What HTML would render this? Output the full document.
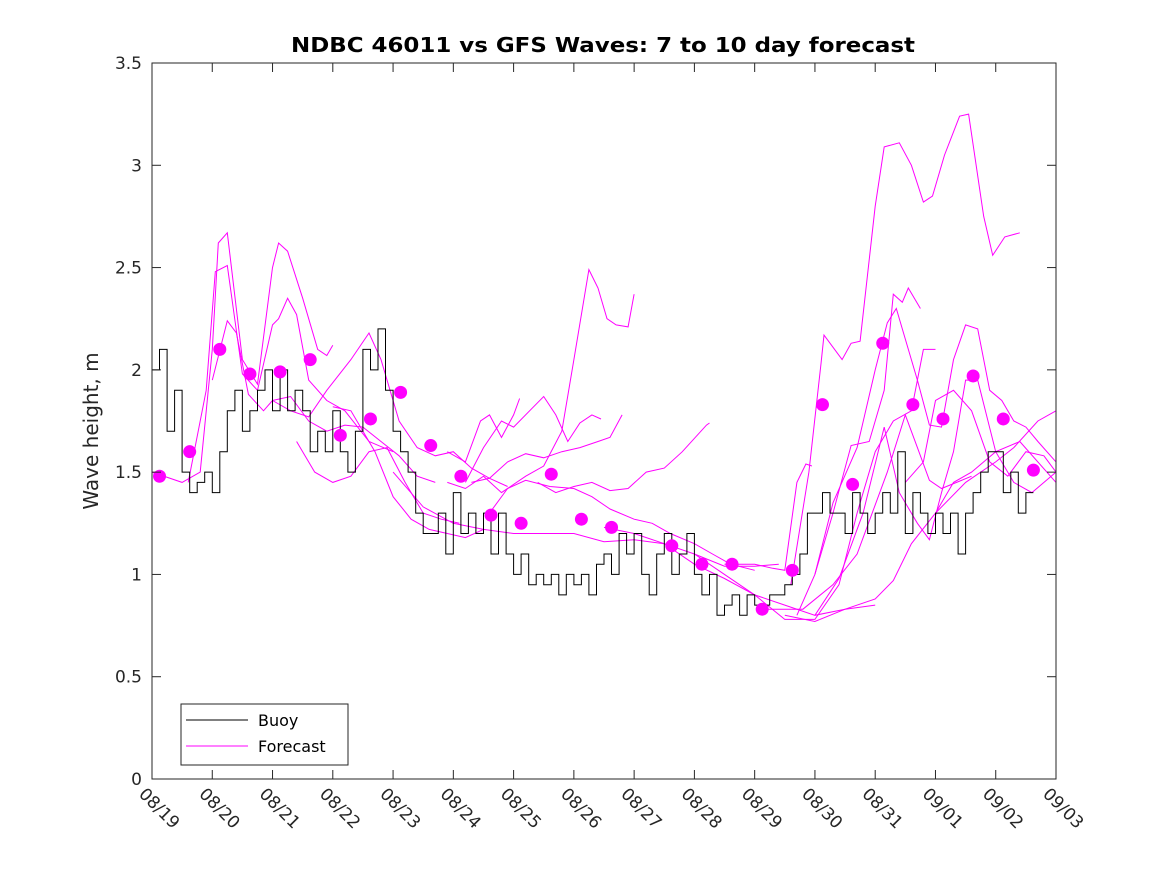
<!DOCTYPE html>
<html><head><meta charset="utf-8"><style>
body{margin:0;background:#fff;}
svg text{font-family:"DejaVu Sans","Liberation Sans",sans-serif;fill:#262626;}
</style></head><body>
<svg id="chart" width="1167" height="875" xmlns="http://www.w3.org/2000/svg">
<rect width="1167" height="875" fill="#fff"/>
<text x="603" y="52" text-anchor="middle" font-size="20" font-weight="bold" textLength="624" lengthAdjust="spacingAndGlyphs" style="fill:#000">NDBC 46011 vs GFS Waves: 7 to 10 day forecast</text>
<text transform="translate(98,431) rotate(-90)" text-anchor="middle" font-size="20">Wave height, m</text>
<g id="series"></g>
<g id="axes"></g>
<g>
<rect x="181" y="704" width="167" height="61" fill="#fff" stroke="#262626" stroke-width="1"/>
<line x1="186" y1="720" x2="248" y2="720" stroke="#000" stroke-width="1"/>
<text x="258" y="726" font-size="16" style="fill:#000">Buoy</text>
<line x1="186" y1="746" x2="248" y2="746" stroke="#ff00ff" stroke-width="1"/>
<text x="258" y="752" font-size="16" style="fill:#000">Forecast</text>
</g>
</svg>
<script>
const xTickLabels=["08/19","08/20","08/21","08/22","08/23","08/24","08/25","08/26","08/27","08/28","08/29","08/30","08/31","09/01","09/02","09/03"];
const yTicks=[0,0.5,1,1.5,2,2.5,3,3.5];
// buoy: 3-hourly values starting 08/19 00:00
const buoyValues=[2.0,2.1,1.7,1.9,1.5,1.4,1.45,1.5,
1.4,1.6,1.8,1.9,1.7,1.8,1.9,2.0,
1.8,2.0,1.8,1.9,1.8,1.6,1.7,1.6,
1.8,1.6,1.5,1.7,2.1,2.0,2.2,1.9,
1.7,1.6,1.5,1.3,1.2,1.2,1.3,1.1,
1.4,1.2,1.3,1.2,1.3,1.1,1.3,1.1,
1.0,1.1,0.95,1.0,0.95,1.0,0.9,1.0,
0.95,1.0,0.9,1.05,1.1,1.0,1.2,1.1,
1.2,1.0,0.9,1.1,1.2,1.0,1.1,1.2,
1.0,0.9,1.0,0.8,0.85,0.9,0.8,0.9,
0.85,0.85,0.9,0.9,0.95,1.0,1.1,1.3,
1.3,1.4,1.3,1.3,1.2,1.4,1.3,1.2,
1.3,1.4,1.3,1.6,1.2,1.4,1.3,1.2,
1.3,1.2,1.3,1.1,1.3,1.4,1.5,1.6,
1.6,1.4,1.5,1.3,1.4];
const dotDays=[0.125,0.625,1.125,1.625,2.125,2.625,3.125,3.625,4.125,4.625,5.125,5.625,6.125,6.625,7.125,7.625,8.625,9.125,9.625,10.125,10.625,11.125,11.625,12.125,12.625,13.125,13.625,14.125,14.625];
const dotValues=[1.48,1.60,2.10,1.98,1.99,2.05,1.68,1.76,1.89,1.63,1.48,1.29,1.25,1.49,1.27,1.23,1.14,1.05,1.05,0.83,1.02,1.83,1.44,2.13,1.83,1.76,1.97,1.76,1.51];
const fc1=[[0,1.5],[0.5,1.45],[0.8,1.5],[1.0,2.1],[1.1,2.62],[1.25,2.67],[1.5,2.05],[1.75,1.93],[2.0,2.5],[2.1,2.62],[2.25,2.58],[2.5,2.35],[2.75,2.1],[2.9,2.07],[3.0,2.12]];
const fc2=[[0.6,1.45],[0.9,1.9],[1.05,2.48],[1.25,2.51],[1.5,1.98],[1.75,1.9],[2.0,2.22],[2.1,2.25],[2.25,2.35],[2.4,2.27],[2.6,1.95],[2.9,1.85],[3.2,1.8],[3.6,1.65],[4.0,1.6]];
const fc3=[[1.0,1.95],[1.25,2.24],[1.4,2.18],[1.6,1.88],[1.85,1.8],[2.0,1.85],[2.3,1.87],[2.6,1.75],[2.9,1.7],[3.2,1.73],[3.5,1.72],[3.8,1.65],[4.1,1.58],[4.4,1.48],[4.7,1.45]];
const fc4=[[2.0,1.85],[2.3,1.8],[2.6,1.77],[2.9,1.9],[3.3,2.05],[3.6,2.18],[3.8,2.05],[4.1,1.75],[4.4,1.62],[4.7,1.58],[5.0,1.6],[5.3,1.52],[5.6,1.47],[5.9,1.43]];
const fc5=[[2.4,1.65],[2.7,1.5],[3.0,1.45],[3.3,1.48],[3.6,1.6],[3.9,1.62],[4.2,1.45],[4.5,1.3],[4.8,1.27],[5.1,1.25]];
const fc6=[[3.0,1.82],[3.3,1.8],[3.7,1.6],[4.0,1.38],[4.3,1.27],[4.6,1.22],[4.9,1.2],[5.2,1.18],[5.5,1.22]];
const fc7=[[4.9,1.45],[5.2,1.42],[5.5,1.48],[5.8,1.4],[6.2,1.48],[6.5,1.53],[6.8,1.7],[7.0,2.05],[7.25,2.49],[7.4,2.4],[7.55,2.25],[7.7,2.22],[7.9,2.21],[8.0,2.37]];
const fc8=[[4.9,1.6],[5.2,1.55],[5.45,1.75],[5.6,1.78],[5.8,1.67],[6.0,1.78],[6.1,1.86]];
const fc9=[[5.2,1.45],[5.5,1.62],[5.8,1.75],[6.0,1.72],[6.3,1.81],[6.5,1.87],[6.7,1.78],[6.9,1.65],[7.1,1.74],[7.3,1.78],[7.45,1.76]];
const fc10=[[5.3,1.45],[5.6,1.47],[5.9,1.55],[6.2,1.59],[6.5,1.57],[6.8,1.6],[7.1,1.62],[7.4,1.65],[7.6,1.67],[7.8,1.78]];
const fc11=[[6.4,1.45],[6.7,1.4],[7.0,1.43],[7.3,1.45],[7.6,1.41],[7.9,1.42],[8.2,1.5],[8.5,1.52],[8.8,1.6],[9.2,1.73],[9.25,1.74]];
const fc12=[[5.6,1.3],[5.9,1.42],[6.2,1.46],[6.6,1.43],[7.0,1.42],[7.3,1.38],[7.6,1.32],[8.0,1.27],[8.3,1.25],[8.6,1.2],[9.0,1.15],[9.3,1.1],[9.6,1.05],[10.0,1.02]];
const fc13=[[4.0,1.5],[4.5,1.33],[5.0,1.25],[5.5,1.22],[6.0,1.2],[6.5,1.2],[7.0,1.2],[7.5,1.16],[8.0,1.17],[8.5,1.15],[9.0,1.1],[9.5,1.04],[10.0,1.04],[10.4,1.05]];
const fc14=[[7.5,1.23],[8.0,1.2],[8.5,1.15],[9.0,1.05],[9.5,0.98],[10.0,0.9],[10.5,0.85],[11.0,0.8],[11.5,0.83],[12.0,0.85]];
const fc15=[[9.5,1.05],[10.0,1.05],[10.3,1.03],[10.5,1.02],[10.7,1.45],[10.85,1.54],[10.95,1.53]];
const fc16=[[10.6,0.95],[10.9,1.5],[11.1,2.03],[11.15,2.17],[11.45,2.05],[11.6,2.13],[11.75,2.14],[12.0,2.8],[12.15,3.09],[12.4,3.11],[12.6,3.0],[12.8,2.82],[12.95,2.85],[13.15,3.05],[13.4,3.24],[13.55,3.25],[13.8,2.75],[13.95,2.56],[14.15,2.65],[14.4,2.67]];
const fc17=[[11.0,1.0],[11.3,1.3],[11.6,1.63],[11.9,1.65],[12.15,1.9],[12.3,2.37],[12.45,2.33],[12.55,2.4],[12.75,2.3]];
const fc18=[[10.7,0.8],[11.0,1.0],[11.3,1.35],[11.7,1.62],[12.0,2.0],[12.2,2.23],[12.35,2.3],[12.45,2.2],[12.7,1.95],[12.9,1.73],[13.1,1.72],[13.3,2.05],[13.5,2.22],[13.7,2.2],[13.9,1.9],[14.1,1.85],[14.3,1.75],[14.5,1.72],[14.7,1.65],[15.0,1.55]];
const fc19=[[11.0,0.8],[11.4,0.98],[11.8,1.3],[12.15,1.72],[12.4,1.4],[12.7,1.25],[12.9,1.17],[13.1,1.4],[13.3,1.6],[13.5,1.95],[13.7,1.95],[14.0,1.6],[14.3,1.45],[14.6,1.4],[15.0,1.5]];
const fc20=[[10.2,0.83],[10.8,0.83],[11.3,0.95],[11.7,1.1],[12.2,1.5],[12.5,1.78],[12.7,1.62],[12.9,1.46],[13.1,1.42],[13.35,1.45],[13.6,1.48]];
const fc21=[[12.5,1.45],[12.8,1.55],[13.0,1.85],[13.3,1.9],[13.6,1.8],[13.9,1.55],[14.2,1.48],[14.5,1.6],[14.8,1.58],[15.0,1.5]];
const fc22=[[13.0,1.3],[13.5,1.45],[14.0,1.55],[14.3,1.62],[14.7,1.75],[15.0,1.8]];
const fc23=[[10.5,0.8],[11.0,0.77],[11.5,0.83],[12.0,0.88],[12.3,0.97],[12.6,1.15],[13.0,1.3],[13.3,1.45],[13.6,1.5],[14.0,1.6],[14.4,1.65],[15.0,1.45]];
const fc24=[[9.0,1.1],[9.5,1.0],[10.0,0.9],[10.5,0.78],[11.0,0.78],[11.4,0.95],[11.7,1.3],[12.0,1.6],[12.3,1.75],[12.6,1.8],[12.8,2.1],[13.0,2.1]];
const forecasts=[fc1,fc2,fc3,fc4,fc5,fc6,fc7,fc8,fc9,fc10,fc11,fc12,fc13,fc14,fc15,fc16,fc17,fc18,fc19,fc20,fc21,fc22,fc23,fc24];

const NS="http://www.w3.org/2000/svg";
const L=152,R=1056,T=63,B=779;
const xs=d=>L+(R-L)*d/15;
const ys=v=>B-(B-T)*v/3.5;
function mk(tag,attrs,parent){const e=document.createElementNS(NS,tag);for(const k in attrs)e.setAttribute(k,attrs[k]);parent.appendChild(e);return e;}
const series=document.getElementById('series');
const axes=document.getElementById('axes');
forecasts.forEach((f,i)=>{
  const p=mk('polyline',{points:f.map(q=>xs(q[0]).toFixed(1)+','+ys(q[1]).toFixed(1)).join(' '),fill:'none',stroke:'#ff00ff','stroke-width':1},series);
  
  
});
let pts=[];
buoyValues.forEach((v,i)=>{const x0=xs(i/8),x1=xs((i+1)/8);pts.push(x0.toFixed(1)+','+ys(v).toFixed(1));pts.push(x1.toFixed(1)+','+ys(v).toFixed(1));});
const bl=mk('polyline',{points:pts.join(' '),fill:'none',stroke:'#000','stroke-width':1},series);


dotDays.forEach((d,i)=>{
  const c=mk('circle',{cx:xs(d),cy:ys(dotValues[i]),r:6.5,fill:'#ff00ff'},series);
  
  
});
const box=mk('rect',{x:L,y:T,width:R-L,height:B-T,fill:'none',stroke:'#262626','stroke-width':1},axes);


yTicks.forEach(v=>{
  const y=ys(v);
  mk('line',{x1:L,y1:y,x2:L+9,y2:y,stroke:'#262626'},axes);
  mk('line',{x1:R,y1:y,x2:R-9,y2:y,stroke:'#262626'},axes);
  const t=mk('text',{x:L-10,y:y+6,'text-anchor':'end','font-size':17},axes);
  t.textContent=String(v);
  
  
});
xTickLabels.forEach((s,i)=>{
  const x=xs(i);
  mk('line',{x1:x,y1:B,x2:x,y2:B-9,stroke:'#262626'},axes);
  mk('line',{x1:x,y1:T,x2:x,y2:T+9,stroke:'#262626'},axes);
  const t=mk('text',{x:0,y:0,'font-size':17,transform:'translate('+(x-14)+','+(B+16)+') rotate(45)'},axes);
  t.textContent=s;
  
  
});
</script>
</body></html>
